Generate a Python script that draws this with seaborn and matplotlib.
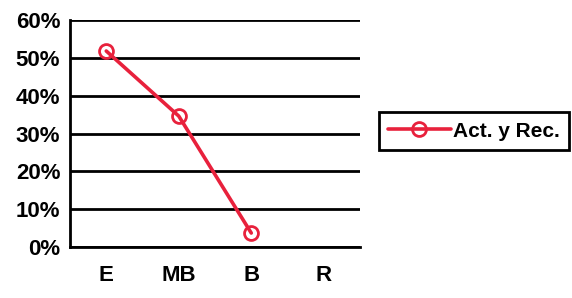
import numpy as np
import pandas as pd
import matplotlib
matplotlib.use("Agg")
import matplotlib.pyplot as plt
import seaborn as sns
from matplotlib.ticker import FuncFormatter

categories = ["E", "MB", "B", "R"]
values = [0.518, 0.346, 0.037, np.nan]
series_name = "Act. y Rec."
yticks = [0, 0.1, 0.2, 0.3, 0.4, 0.5, 0.6]

sns.set_style("white")
plt.rcParams['font.family'] = ['Liberation Sans', 'DejaVu Sans']
plt.rcParams['font.weight'] = 'bold'
plt.rcParams['text.color'] = 'black'
plt.rcParams['xtick.color'] = 'black'
plt.rcParams['ytick.color'] = 'black'

df = pd.DataFrame({"pos": range(len(categories)), "val": values, "serie": series_name})

fig = plt.figure(figsize=(5.72, 2.98), dpi=100)
ax = fig.add_axes([0.1224, 0.171, 0.507, 0.762])
red = "#E8213C"
sns.lineplot(data=df.dropna(), x="pos", y="val", hue="serie", palette=[red],
             marker="o", markersize=10, markerfacecolor="none",
             markeredgecolor=red, markeredgewidth=2, linewidth=2.6, ax=ax)

ax.set_xlim(-0.5, len(categories) - 0.5)
ax.set_ylim(0, 0.6)
ax.set_yticks(yticks)
ax.yaxis.set_major_formatter(FuncFormatter(lambda v, p: f"{v*100:.0f}%"))
ax.set_xticks(range(len(categories)))
ax.set_xticklabels(categories)
ax.set_xticks(np.arange(-0.5, len(categories), 1.0), minor=True)
ax.tick_params(axis="x", which="major", length=0, pad=13, labelsize=16)
ax.tick_params(axis="x", which="minor", length=5, width=1.8, direction="out", color="black")
ax.tick_params(axis="y", length=5, width=1.8, direction="out", color="black", labelsize=16, pad=2)
for lab in ax.get_xticklabels() + ax.get_yticklabels():
    lab.set_fontweight("bold")
ax.grid(axis="y", color="black", linewidth=2)
ax.set_axisbelow(True)
sns.despine(ax=ax, top=True, right=True)
for s in ["left", "bottom"]:
    ax.spines[s].set_color("black")
    ax.spines[s].set_linewidth(2)
ax.set_xlabel("")
ax.set_ylabel("")

leg = ax.legend(loc="center left", bbox_to_anchor=(1.065, 0.51), frameon=True,
                fancybox=False, edgecolor="black", framealpha=1, handlelength=3.0,
                handletextpad=0.1, borderpad=0.45, borderaxespad=0,
                prop={"weight": "bold", "size": 15})
leg.get_frame().set_linewidth(2)
for h in leg.legend_handles:
    h.set_markerfacecolor("none")

fig.savefig("out.png", dpi=100)
